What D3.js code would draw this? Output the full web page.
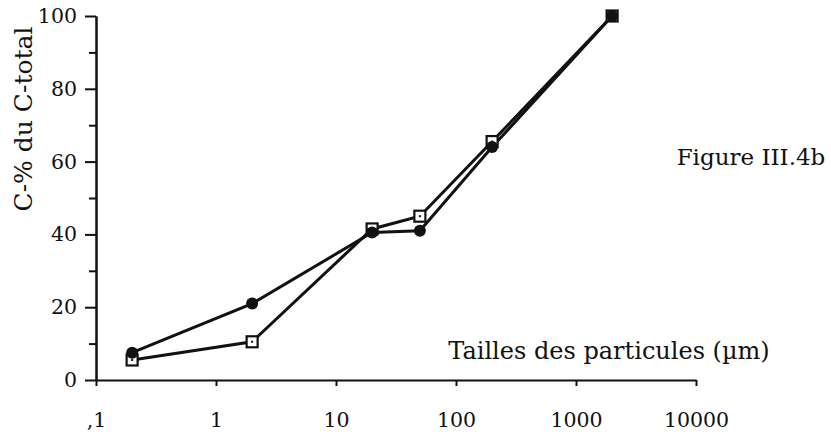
<!DOCTYPE html>
<html>
<head>
<meta charset="utf-8">
<script src="https://cdn.jsdelivr.net/npm/d3@7"></script>
<style>
  body { margin: 0; background: #fff; }
  svg text { font-family: "DejaVu Serif", serif; fill: #111; }
</style>
</head>
<body>
<script>
// particle size classes (µm)
var sizes = [0.2, 2, 20, 50, 200, 2000];
// cumulative C-% (filled circles)
var circleVals = [7.5, 21, 40.5, 41, 64, 100];
// cumulative C-% (open squares)
var squareVals = [5.5, 10.5, 41.5, 45, 65.5, 100];

var xTicks = [0.1, 1, 10, 100, 1000, 10000];
var xTickLabels = [",1", "1", "10", "100", "1000", "10000"];
var yMajor = [0, 20, 40, 60, 80, 100];
var yMinor = [10, 30, 50, 70, 90];

const width = 831;
const height = 436;

const x = d3.scaleLog().domain([0.1, 10000]).range([96, 696]);
const y = d3.scaleLinear().domain([0, 100]).range([380, 16]);

const svg = d3.select('body')
	.append('svg')
	.attr('width', width)
	.attr('height', height);

// y axis
const yAxis = svg.append('g')
	.attr('transform', 'translate(96,0)')
	.call(d3.axisLeft(y).tickValues(yMajor).tickSize(11).tickSizeOuter(0).tickPadding(8));
svg.append('g')
	.attr('transform', 'translate(96,0)')
	.call(d3.axisLeft(y).tickValues(yMinor).tickSize(7).tickFormat('').tickSizeOuter(0));

// x axis
const xAxis = svg.append('g')
	.attr('transform', 'translate(0,380)')
	.call(d3.axisBottom(x).tickValues(xTicks).tickSize(6).tickSizeOuter(0).tickPadding(41)
		.tickFormat(function(d, i) { return xTickLabels[i]; }));

svg.selectAll('.domain, .tick line').attr('stroke', '#111').attr('stroke-width', 2);
svg.selectAll('.tick text').attr('font-size', 20.5).attr('font-family', '"DejaVu Serif", serif').attr('fill', '#111');
xAxis.selectAll('.tick text').attr('dy', '0');

// axis titles
svg.append('text')
	.attr('transform', 'translate(32,119) rotate(-90)')
	.attr('text-anchor', 'middle')
	.attr('font-size', 25)
	.text('C-% du C-total');

svg.append('text')
	.attr('x', 609)
	.attr('y', 359)
	.attr('text-anchor', 'middle')
	.attr('font-size', 24)
	.text('Tailles des particules (µm)');

svg.append('text')
	.attr('x', 751)
	.attr('y', 165)
	.attr('text-anchor', 'middle')
	.attr('font-size', 23)
	.text('Figure III.4b');

// lines
const line = d3.line()
	.x(function(d) { return x(d[0]); })
	.y(function(d) { return y(d[1]); });

const squarePts = sizes.map(function(s, i) { return [s, squareVals[i]]; });
const circlePts = sizes.map(function(s, i) { return [s, circleVals[i]]; });

[squarePts, circlePts].forEach(function(pts) {
	svg.append('path')
		.datum(pts)
		.attr('d', line)
		.attr('fill', 'none')
		.attr('stroke', '#111')
		.attr('stroke-width', 3);
});

// open square markers with centre dot
svg.selectAll('rect.sq')
	.data(squarePts)
	.enter()
	.append('rect')
	.attr('class', 'sq')
	.attr('x', function(d) { return x(d[0]) - 5.5; })
	.attr('y', function(d) { return y(d[1]) - 5.5; })
	.attr('width', 11)
	.attr('height', 11)
	.attr('fill', '#fff')
	.attr('stroke', '#111')
	.attr('stroke-width', 2.2);
svg.selectAll('rect.dot')
	.data(squarePts)
	.enter()
	.append('rect')
	.attr('class', 'dot')
	.attr('x', function(d) { return x(d[0]) - 1; })
	.attr('y', function(d) { return y(d[1]) - 1; })
	.attr('width', 2)
	.attr('height', 2)
	.attr('fill', '#111');

// filled circle markers
svg.selectAll('circle.pt')
	.data(circlePts)
	.enter()
	.append('circle')
	.attr('class', 'pt')
	.attr('cx', function(d) { return x(d[0]); })
	.attr('cy', function(d) { return y(d[1]); })
	.attr('r', 6)
	.attr('fill', '#111');
</script>
</body>
</html>
